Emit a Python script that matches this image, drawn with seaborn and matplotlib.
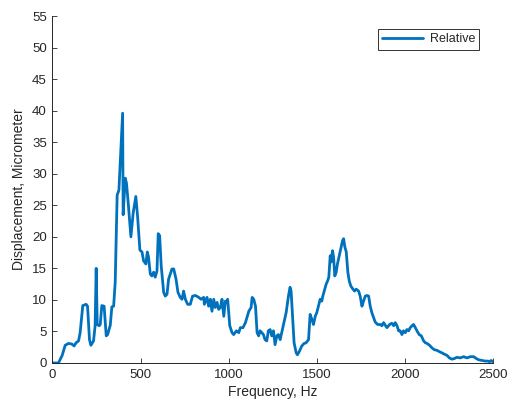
import matplotlib
matplotlib.use("Agg")
import matplotlib.pyplot as plt
import seaborn as sns
import pandas as pd

# Frequency response: relative displacement vs. frequency
freq_hz = [
    0, 34, 55, 72, 91, 110, 123, 134, 148, 157, 172, 191, 199, 210, 218, 233,
    242, 248, 254, 265, 271, 280, 293, 305, 313, 328, 337, 347, 356, 367, 377,
    398, 401, 413, 420, 430, 445, 458, 473, 483, 496, 508, 517, 530, 538, 545,
    555, 564, 574, 583, 593, 600, 608, 617, 631, 640, 650, 659, 678, 688, 701,
    712, 725, 735, 744, 754, 767, 782, 795, 811, 830, 843, 858, 862, 877, 886,
    896, 905, 915, 924, 934, 943, 953, 962, 972, 981, 991, 994, 1006, 1019,
    1028, 1044, 1057, 1066, 1081, 1095, 1114, 1127, 1133, 1142, 1152, 1161,
    1170, 1178, 1188, 1197, 1206, 1216, 1225, 1235, 1244, 1254, 1263, 1273,
    1282, 1292, 1301, 1311, 1326, 1339, 1348, 1354, 1362, 1371, 1383, 1390,
    1402, 1415, 1428, 1439, 1453, 1462, 1472, 1481, 1491, 1500, 1509, 1519,
    1528, 1534, 1542, 1553, 1561, 1568, 1576, 1581, 1589, 1595, 1602, 1610,
    1617, 1627, 1636, 1646, 1652, 1659, 1667, 1676, 1684, 1693, 1705, 1714,
    1723, 1737, 1746, 1756, 1765, 1775, 1784, 1794, 1803, 1812, 1822, 1831,
    1845, 1860, 1869, 1879, 1888, 1898, 1913, 1926, 1936, 1945, 1955, 1964,
    1973, 1983, 1992, 2002, 2011, 2021, 2030, 2044, 2049, 2059, 2068, 2081,
    2093, 2106, 2116, 2125, 2140, 2153, 2167, 2182, 2195, 2210, 2223, 2239,
    2252, 2267, 2280, 2295, 2314, 2333, 2352, 2371, 2390, 2405, 2419, 2437,
    2456, 2470, 2481, 2489, 2498,
]
displacement_um = [
    0.0, 0.0, 1.2, 2.8, 3.1, 3.0, 2.7, 3.2, 3.5, 4.8, 9.1, 9.3, 9.0, 3.7, 2.8,
    3.5, 5.9, 15.0, 6.1, 5.9, 6.1, 9.1, 9.0, 4.3, 4.5, 6.0, 8.9, 9.0, 12.8,
    26.6, 27.4, 39.6, 23.5, 29.3, 28.5, 25.3, 20.0, 23.8, 26.4, 23.2, 17.9,
    17.6, 16.2, 15.7, 17.6, 16.8, 14.1, 13.8, 14.4, 13.6, 14.6, 20.5, 20.2,
    15.4, 11.2, 10.6, 10.9, 13.3, 14.9, 14.9, 13.3, 11.2, 10.4, 10.1, 11.4,
    10.1, 9.3, 9.3, 10.6, 10.7, 10.4, 10.1, 10.4, 9.3, 10.4, 9.0, 10.1, 8.2,
    10.1, 8.8, 9.6, 8.5, 8.8, 10.1, 7.4, 9.8, 9.6, 10.1, 5.9, 4.8, 4.5, 5.1,
    4.8, 5.6, 5.6, 6.4, 8.2, 8.8, 10.4, 10.1, 9.0, 4.8, 4.3, 5.1, 4.8, 4.5,
    3.7, 3.5, 5.1, 5.3, 4.3, 5.1, 2.9, 4.3, 4.5, 3.7, 4.8, 6.1, 8.0, 10.6,
    12.0, 11.4, 7.4, 3.2, 1.6, 1.3, 1.9, 2.7, 3.1, 3.2, 3.7, 7.7, 6.9, 6.1,
    7.4, 8.0, 9.0, 10.1, 9.8, 10.6, 11.4, 12.5, 13.0, 13.6, 17.0, 16.0, 17.8,
    16.8, 13.8, 14.4, 15.7, 17.0, 18.1, 19.4, 19.7, 18.4, 17.6, 14.4, 13.0,
    12.2, 11.7, 11.4, 11.7, 11.4, 10.6, 9.0, 9.8, 10.6, 10.7, 10.6, 9.0, 8.0,
    7.2, 6.5, 6.1, 6.1, 5.9, 6.4, 6.0, 5.6, 6.1, 6.3, 5.9, 6.4, 5.9, 5.1, 5.1,
    4.5, 5.1, 4.8, 5.3, 5.1, 5.6, 6.0, 6.1, 5.6, 5.1, 4.5, 4.3, 3.5, 3.2, 3.1,
    2.8, 2.4, 2.1, 2.0, 1.8, 1.6, 1.4, 1.2, 0.8, 0.6, 0.7, 0.9, 0.8, 1.0, 0.8,
    1.0, 1.0, 0.7, 0.5, 0.4, 0.3, 0.3, 0.2, 0.4, 0.2,
]
series_name = "Relative"
x_ticks = [0, 500, 1000, 1500, 2000, 2500]
y_ticks = list(range(0, 56, 5))

df = pd.DataFrame({"Frequency": freq_hz, "Displacement": displacement_um})

sns.set_theme(style="ticks")
plt.rcParams["font.family"] = ["Liberation Sans", "DejaVu Sans"]
ink = "#262626"

fig = plt.figure(figsize=(5.07, 4.12), dpi=100)
ax = fig.add_axes([0.1035, 0.119, 0.869, 0.842])

sns.lineplot(data=df, x="Frequency", y="Displacement", ax=ax,
             color="#0072BD", linewidth=2.0, label=series_name,
             sort=False, estimator=None)

ax.set_xlim(0, 2500)
ax.set_ylim(0, 55)
ax.set_xticks(x_ticks)
ax.set_yticks(y_ticks)
ax.tick_params(direction="in", length=3.5, width=0.6, colors=ink,
               labelsize=9.5, pad=4)
for side in ("top", "right"):
    ax.spines[side].set_visible(False)
for side in ("left", "bottom"):
    ax.spines[side].set_color(ink)
    ax.spines[side].set_linewidth(0.7)

ax.set_xlabel("Frequency, Hz", fontsize=10, color=ink, labelpad=3)
ax.set_ylabel("Displacement, Micrometer", fontsize=10, color=ink, labelpad=4)

leg = ax.legend(loc="upper right", bbox_to_anchor=(0.969, 0.9625),
                borderaxespad=0, fancybox=False, fontsize=9,
                handlelength=3.3, handletextpad=0.5, borderpad=0.35,
                framealpha=1)
leg.get_frame().set_edgecolor("#333333")
leg.get_frame().set_linewidth(0.7)
for t in leg.get_texts():
    t.set_color(ink)

fig.savefig("out.png", dpi=100, facecolor="white")
